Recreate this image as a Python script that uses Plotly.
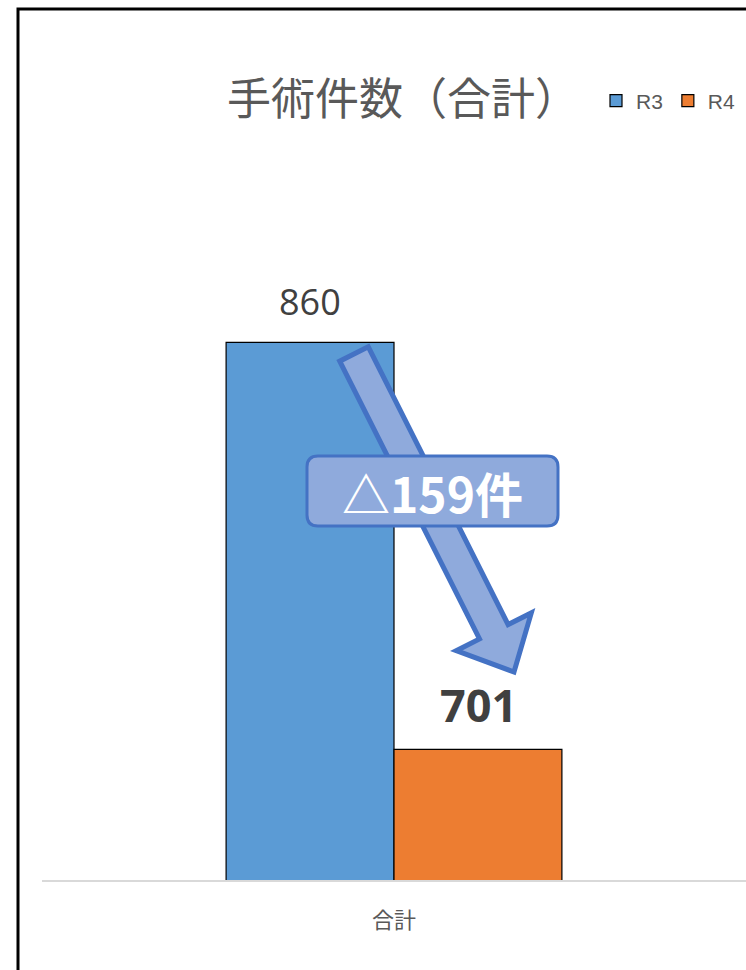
import plotly.graph_objects as go

categories = ["合計"]
series_names = ["R3", "R4"]
r3_values = [860]
r4_values = [701]
diff_label = "△159件"
title_text = "手術件数（合計）"

W, H = 746, 970
def px(x):
    return x / W
def py(y):
    return 1 - y / H

blue = "#5B9BD5"
orange = "#ED7D31"

fig = go.Figure()
fig.add_trace(go.Bar(name=series_names[0], x=categories, y=r3_values,
                     marker=dict(color=blue, line=dict(color="black", width=1.2))))
fig.add_trace(go.Bar(name=series_names[1], x=categories, y=r4_values,
                     marker=dict(color=orange, line=dict(color="black", width=1.2))))

# data labels
fig.add_annotation(x=categories[0], y=r3_values[0], xref="x", yref="y", xshift=-84, yshift=14,
                   yanchor="bottom", text=str(r3_values[0]), showarrow=False,
                   font=dict(family="Open Sans, Noto Sans", size=36, color="#404040"))
fig.add_annotation(x=categories[0], y=r4_values[0], xref="x", yref="y", xshift=84, yshift=12,
                   yanchor="bottom", text=f"<b>{r4_values[0]}</b>", showarrow=False,
                   font=dict(family="Open Sans, Noto Sans", size=45, color="#404040"))

# block arrow
arrow_pts = [(368.3, 346.8), (339.7, 361.2), (479.5, 639.0), (456.3, 650.7),
             (514.0, 672.0), (531.3, 612.9), (508.1, 624.6)]
path = "M " + " L ".join(f"{px(x):.5f},{py(y):.5f}" for x, y in arrow_pts) + " Z"
fig.add_shape(type="path", path=path, xref="paper", yref="paper",
              fillcolor="#8FAADC", line=dict(color="#4472C4", width=5))

# rounded box
x0, x1, y0, y1, r = 307, 558, 456, 526, 11
def P(x, y):
    return f"{px(x):.5f},{py(y):.5f}"
box = (f"M {P(x0+r,y0)} L {P(x1-r,y0)} Q {P(x1,y0)} {P(x1,y0+r)} "
       f"L {P(x1,y1-r)} Q {P(x1,y1)} {P(x1-r,y1)} L {P(x0+r,y1)} "
       f"Q {P(x0,y1)} {P(x0,y1-r)} L {P(x0,y0+r)} Q {P(x0,y0)} {P(x0+r,y0)} Z")
fig.add_shape(type="path", path=box, xref="paper", yref="paper",
              fillcolor="#8FAADC", line=dict(color="#4472C4", width=3))
fig.add_annotation(x=px(432), y=py(492), xref="paper", yref="paper", text=f"<b>{diff_label}</b>",
                   showarrow=False, font=dict(family="Noto Sans CJK JP", size=48, color="white"))

# outer frame
fig.add_shape(type="rect", xref="paper", yref="paper", x0=px(18), y0=-0.05, x1=1.05, y1=py(9),
              line=dict(color="black", width=3), fillcolor="rgba(0,0,0,0)")

fig.update_layout(
    width=W, height=H,
    margin=dict(l=0, r=0, t=0, b=0),
    paper_bgcolor="white", plot_bgcolor="white",
    barmode="group", bargap=0.523, bargroupgap=0,
    font=dict(family="Noto Sans CJK JP", color="#595959"),
    title=dict(text=title_text, x=px(403), xanchor="center", y=py(100), yanchor="middle",
               font=dict(family="Noto Sans CJK JP", size=44, color="#595959")),
    legend=dict(orientation="h", x=px(596), xanchor="left", y=py(101), yanchor="middle",
                font=dict(family="Liberation Sans", size=21, color="#595959"),
                itemwidth=30, tracegroupgap=0, bgcolor="rgba(0,0,0,0)"),
    xaxis=dict(domain=[px(42), 1], showline=True, linecolor="#D9D9D9", linewidth=1.5,
               showgrid=False, ticks="", tickfont=dict(size=22, color="#595959"),
               ticklabelstandoff=20, fixedrange=True),
    yaxis=dict(domain=[py(880), py(112)], range=[650, 950], visible=False, showgrid=False,
               fixedrange=True),
    showlegend=True,
)

fig.write_html("out.html", config={"displayModeBar": False},
               post_script="document.body.style.margin='0';document.body.style.overflow='hidden';")
